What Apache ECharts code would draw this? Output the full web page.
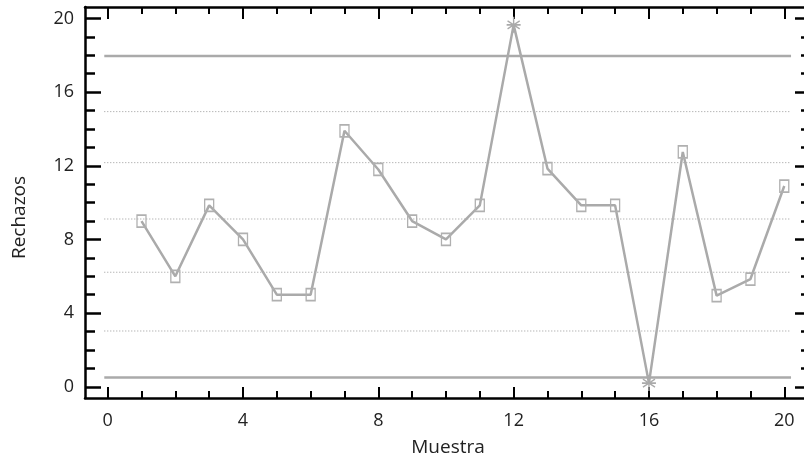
<!DOCTYPE html>
<html>
<head>
<meta charset="utf-8">
<script src="https://cdn.jsdelivr.net/npm/echarts@6/dist/echarts.min.js"></script>
<style>html,body{margin:0;padding:0;background:#fff;}#c{width:804px;height:462px;}</style>
</head>
<body>
<div id="c"></div>
<script>
// ---- data ----
var samples = [1,2,3,4,5,6,7,8,9,10,11,12,13,14,15,16,17,18,19,20];
var rechazos = [9, 6, 9.85, 8, 5, 5, 13.9, 11.8, 9, 8, 9.85, 19.65, 11.85, 9.85, 9.85, 0.2, 12.75, 4.95, 5.85, 10.9];
var outOfControl = [12, 16];           // sample numbers flagged
var controlLimits = [17.96, 0.5];       // UCL, LCL
var zoneLines = [14.94, 12.17, 9.11, 6.22, 3.03];
var limitSpan = [-0.1, 20.2];           // x extent of horizontal lines
var xMajorTicks = [0, 4, 8, 12, 16, 20];
var xMinorTicks = [1,2,3,5,6,7,9,10,11,13,14,15,17,18,19];
var yMajorTicks = [0, 4, 8, 12, 16, 20];
var yMinorTicks = [1,2,3,5,6,7,9,10,11,13,14,15,17,18,19];
var xTitle = 'Muestra';
var yTitle = 'Rechazos';

// ---- chart ----
var FONT = '"Open Sans"';
var GRAY = '#aaaaaa';
var star = 'path://M0,-10 L0,10 M-8.66,-5 L8.66,5 M-8.66,5 L8.66,-5 M-10,0 L10,0';

function xAx(pos, ticks, len, labels, line, name) {
  return {
    type: 'value', position: pos, min: -0.67, max: 20.79,
    axisLine: {show: line, onZero: false, lineStyle: {color: '#000', width: 2.5}},
    axisTick: {show: true, inside: true, length: len, customValues: ticks, lineStyle: {color: '#000', width: 2}},
    axisLabel: labels ? {show: true, customValues: ticks, margin: 14, fontSize: 18, fontFamily: FONT, color: '#222'} : {show: false},
    splitLine: {show: false},
    name: name || '', nameLocation: 'middle', nameGap: 40,
    nameTextStyle: {fontSize: 19, fontFamily: FONT, color: '#222', padding: [0, 0, 0, 0]}
  };
}
function yAx(pos, ticks, len, labels, line, name) {
  return {
    type: 'value', position: pos, min: -0.608, max: 20.62,
    axisLine: {show: line, onZero: false, lineStyle: {color: '#000', width: 2.5}},
    axisTick: {show: true, inside: true, length: len, customValues: ticks, lineStyle: {color: '#000', width: 2.5}},
    axisLabel: labels ? {show: true, customValues: ticks, margin: 11, fontSize: 18, fontFamily: FONT, color: '#222'} : {show: false},
    splitLine: {show: false},
    name: name || '', nameLocation: 'middle', nameGap: 56, nameRotate: 90,
    nameTextStyle: {fontSize: 19, fontFamily: FONT, color: '#222', padding: [0, 30, 0, 0]}
  };
}

var series = [];
zoneLines.forEach(function (v) {
  series.push({type: 'line', xAxisIndex: 0, yAxisIndex: 0, symbol: 'none', silent: true,
    data: [[limitSpan[0], v], [limitSpan[1], v]],
    lineStyle: {color: '#999', width: 1, type: [1, 2]}});
});
controlLimits.forEach(function (v) {
  series.push({type: 'line', xAxisIndex: 0, yAxisIndex: 0, symbol: 'none', silent: true,
    data: [[limitSpan[0], v], [limitSpan[1], v]],
    lineStyle: {color: GRAY, width: 2.5}});
});
series.push({
  type: 'line', xAxisIndex: 0, yAxisIndex: 0,
  lineStyle: {color: GRAY, width: 2.5},
  itemStyle: {color: 'rgba(255,255,255,0)', borderColor: '#b0b0b0', borderWidth: 1.5},
  data: rechazos.map(function (v, i) {
    var flagged = outOfControl.indexOf(samples[i]) >= 0;
    return {
      value: [samples[i], v],
      symbol: flagged ? star : 'rect',
      symbolSize: flagged ? [14, 16] : [9, 12],
      itemStyle: flagged ? {color: 'rgba(0,0,0,0)', borderColor: '#aaa', borderWidth: 1.5} : undefined
    };
  }),
  z: 5
});

var chart = echarts.init(document.getElementById('c'), null, {renderer: 'canvas'});
chart.setOption({
  animation: false,
  backgroundColor: '#fff',
  grid: {left: 85, right: -7, top: 7, bottom: 64, containLabel: false, outerBoundsMode: 'none'},
  xAxis: [
    xAx('bottom', xMajorTicks, 11, true, true, xTitle),
    xAx('bottom', xMinorTicks, 7, false, false),
    xAx('top', xMajorTicks, 12, false, true),
    xAx('top', xMinorTicks, 7, false, false)
  ],
  yAxis: [
    yAx('left', yMajorTicks, 16, true, true, yTitle),
    yAx('left', yMinorTicks, 10, false, false),
    yAx('right', yMajorTicks, 16, false, true),
    yAx('right', yMinorTicks, 10, false, false)
  ],
  series: series
});
</script>
</body>
</html>
